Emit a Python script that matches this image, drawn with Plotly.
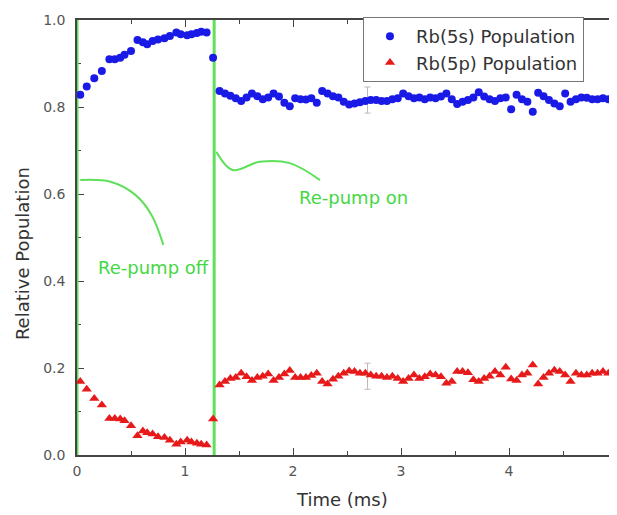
import plotly.graph_objects as go

# ---------------- data ----------------
t_off = [0.03, 0.09, 0.16, 0.23, 0.30, 0.35, 0.40, 0.44, 0.50, 0.56, 0.61, 0.65,
         0.70, 0.75, 0.81, 0.86, 0.92, 0.96, 1.02, 1.06, 1.11, 1.15, 1.20]
s_off = [0.828, 0.847, 0.866, 0.883, 0.910, 0.910, 0.913, 0.920, 0.929, 0.954, 0.949, 0.944,
         0.952, 0.955, 0.958, 0.963, 0.971, 0.967, 0.965, 0.967, 0.970, 0.973, 0.971]
p_off = [0.169, 0.151, 0.130, 0.115, 0.084, 0.084, 0.083, 0.079, 0.067, 0.044, 0.055, 0.051,
         0.048, 0.042, 0.040, 0.034, 0.025, 0.030, 0.034, 0.030, 0.027, 0.025, 0.023]

t_jump = [1.26]
s_jump = [0.913]
p_jump = [0.083]

t_on = [1.32, 1.37, 1.42, 1.47, 1.52, 1.57, 1.62, 1.67, 1.72, 1.77, 1.82, 1.87, 1.92, 1.97,
        2.02, 2.07, 2.12, 2.17, 2.22, 2.27, 2.32, 2.37, 2.42, 2.47, 2.52, 2.57, 2.62, 2.67,
        2.72, 2.77, 2.82, 2.87, 2.92, 2.97, 3.02, 3.07, 3.12, 3.17, 3.22, 3.27, 3.32, 3.37,
        3.42, 3.47, 3.52, 3.57, 3.62, 3.67, 3.72, 3.77, 3.82, 3.87, 3.92, 3.97, 4.02, 4.07,
        4.12, 4.17, 4.22, 4.27, 4.32, 4.37, 4.42, 4.47, 4.52, 4.57, 4.62, 4.67, 4.72, 4.77,
        4.82, 4.87, 4.92, 4.97]
s_on = [0.837, 0.831, 0.826, 0.820, 0.814, 0.822, 0.831, 0.825, 0.818, 0.822, 0.831, 0.824,
        0.810, 0.802, 0.820, 0.818, 0.817, 0.820, 0.810, 0.837, 0.831, 0.825, 0.822, 0.812,
        0.806, 0.808, 0.811, 0.814, 0.816, 0.816, 0.814, 0.814, 0.818, 0.820, 0.831, 0.825,
        0.820, 0.822, 0.818, 0.822, 0.820, 0.824, 0.831, 0.818, 0.807, 0.812, 0.816, 0.822,
        0.834, 0.824, 0.818, 0.814, 0.820, 0.822, 0.795, 0.828, 0.818, 0.812, 0.789, 0.833,
        0.825, 0.816, 0.808, 0.802, 0.831, 0.812, 0.818, 0.822, 0.821, 0.818, 0.818, 0.820,
        0.818, 0.818]
p_on = [0.161, 0.169, 0.176, 0.178, 0.188, 0.180, 0.171, 0.178, 0.181, 0.186, 0.171, 0.178,
        0.186, 0.194, 0.178, 0.178, 0.178, 0.183, 0.188, 0.169, 0.163, 0.174, 0.181, 0.188,
        0.193, 0.192, 0.188, 0.188, 0.184, 0.181, 0.181, 0.178, 0.181, 0.176, 0.169, 0.176,
        0.184, 0.176, 0.180, 0.186, 0.184, 0.180, 0.165, 0.169, 0.192, 0.192, 0.189, 0.173,
        0.169, 0.176, 0.181, 0.192, 0.184, 0.202, 0.175, 0.171, 0.184, 0.188, 0.207, 0.163,
        0.178, 0.188, 0.195, 0.192, 0.184, 0.169, 0.188, 0.184, 0.184, 0.188, 0.188, 0.192,
        0.188, 0.188]

# single representative error bars
err_t = [2.69]
err_s = [0.816]
err_p = [0.181]
err_size = [0.030]

# re-pump switching times
switch_times = [0.0, 1.27]

# hand-drawn annotation curves
curve_off_t = [0.03, 0.31, 0.54, 0.69, 0.80]
curve_off_y = [0.632, 0.628, 0.598, 0.552, 0.483]
curve_on_t = [1.29, 1.44, 1.69, 1.97, 2.25]
curve_on_y = [0.697, 0.655, 0.674, 0.671, 0.632]

labels = ["Re-pump off", "Re-pump on"]
label_t = [0.71, 2.56]
label_y = [0.432, 0.591]

names = ["Rb(5s) Population", "Rb(5p) Population"]
x_title = "Time (ms)"
y_title = "Relative Population"

# ---------------- figure ----------------
BLUE = "#1a1ae6"
RED = "#e61a1a"
GREEN = "#5fe05a"
FONT = "DejaVu Sans, Arial"

fig = go.Figure()

for tt in switch_times:
    fig.add_trace(go.Scatter(x=[tt, tt], y=[0, 1], mode="lines",
                             line=dict(color=GREEN, width=3), showlegend=False,
                             hoverinfo="skip", cliponaxis=False))

fig.add_trace(go.Scatter(x=curve_off_t, y=curve_off_y, mode="lines",
                         line=dict(color=GREEN, width=2, shape="spline"),
                         showlegend=False, hoverinfo="skip"))
fig.add_trace(go.Scatter(x=curve_on_t, y=curve_on_y, mode="lines",
                         line=dict(color=GREEN, width=2, shape="spline"),
                         showlegend=False, hoverinfo="skip"))

# error bars
fig.add_trace(go.Scatter(x=err_t, y=err_s, mode="markers", marker=dict(opacity=0),
                         error_y=dict(type="data", array=err_size, color="#b8b8c8",
                                      thickness=1, width=3),
                         showlegend=False, hoverinfo="skip"))
fig.add_trace(go.Scatter(x=err_t, y=err_p, mode="markers", marker=dict(opacity=0),
                         error_y=dict(type="data", array=err_size, color="#c8b8b8",
                                      thickness=1, width=3),
                         showlegend=False, hoverinfo="skip"))

fig.add_trace(go.Scatter(x=t_off + t_jump + t_on, y=s_off + s_jump + s_on,
                         mode="markers", name=names[0],
                         marker=dict(symbol="circle", size=8, color=BLUE)))
fig.add_trace(go.Scatter(x=t_off + t_jump + t_on, y=p_off + p_jump + p_on,
                         mode="markers", name=names[1],
                         marker=dict(symbol="triangle-up", size=9, color=RED)))

for txt, tx, ty in zip(labels, label_t, label_y):
    fig.add_annotation(x=tx, y=ty, text=txt, showarrow=False,
                       font=dict(family=FONT, size=18, color="#44d844"))

# axis titles as paper-anchored annotations
fig.add_annotation(xref="paper", yref="paper", x=-0.102, y=0.464, text=y_title,
                   textangle=-90, showarrow=False, xanchor="center", yanchor="middle",
                   font=dict(family=FONT, size=18, color="#333333"))
fig.add_annotation(xref="paper", yref="paper", x=0.49, y=-0.103, text=x_title,
                   showarrow=False, xanchor="center", yanchor="middle",
                   font=dict(family=FONT, size=18, color="#333333"))

axis_common = dict(showline=True, linecolor="#444444", linewidth=1.5, mirror="allticks",
                   ticks="inside", tickcolor="#444444", showgrid=False, zeroline=False,
                   automargin=False, layer="below traces",
                   tickfont=dict(family=FONT, size=14, color="#555555"))

fig.update_xaxes(range=[0, 5], dtick=1, tick0=0, ticklen=7, ticklabelstandoff=2,
                 minor=dict(dtick=0.5, ticklen=4, ticks="inside", tickcolor="#444444"),
                 **axis_common)
fig.update_yaxes(range=[0, 1], dtick=0.2, tick0=0, ticklen=7, tickformat=".1f",
                 ticklabelstandoff=7,
                 minor=dict(dtick=0.1, ticklen=4, ticks="inside", tickcolor="#444444"),
                 **axis_common)

# page body has an 8px margin: shrink the figure so the plot lands where the reference has it
fig.update_layout(
    width=609, height=507,
    margin=dict(l=69, r=0, t=12, b=60),
    plot_bgcolor="white", paper_bgcolor="white",
    legend=dict(x=0.5296, y=1.007, xanchor="left", yanchor="top",
                bgcolor="white", bordercolor="#777777", borderwidth=1,
                font=dict(family=FONT, size=18, color="#333333"),
                itemwidth=42, tracegroupgap=0),
)

fig.write_html("out.html")
